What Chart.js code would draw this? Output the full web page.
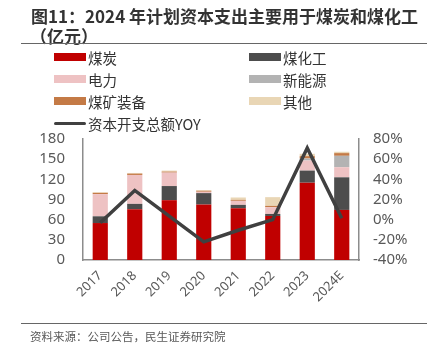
<!DOCTYPE html>
<html>
<head>
<meta charset="utf-8">
<script src="https://cdn.jsdelivr.net/npm/chart.js@4/dist/chart.umd.min.js"></script>
<style>
  body { margin: 0; background: #fff; font-family: "Noto Sans CJK SC", "Noto Sans", sans-serif; }
  #wrap { position: relative; width: 427px; height: 348px; overflow: hidden; }
  #chart { position: absolute; left: 0; top: 0; }
  .title { position: absolute; left: 31px; font-size: 17px; font-weight: bold; color: #333; line-height: 20px; white-space: nowrap; }
  .rule { position: absolute; left: 21px; right: 0; height: 0; border-top: 1.5px solid #666; }
  #legend { position: absolute; left: 0; top: 0; }
  .item { position: absolute; display: flex; align-items: center; font-size: 14.5px; color: #333; white-space: nowrap; height: 20px; }
  .sw { width: 32px; height: 8px; margin-right: 2px; }
  .ln { width: 32px; height: 3px; margin-right: 2px; border-radius: 2px; }
  .source { position: absolute; left: 30px; top: 328px; font-size: 11.5px; color: #595959; white-space: nowrap; }
</style>
</head>
<body>
<div id="wrap">
  <canvas id="chart" width="427" height="348"></canvas>
  <div class="title" style="top:6px">图11：2024 年计划资本支出主要用于煤炭和煤化工</div>
  <div class="title" style="top:26px; left:30px">（亿元）</div>
  <div class="rule" style="top:43px"></div>
  <div id="legend"></div>
  <div class="rule" style="top:323px"></div>
  <div class="source">资料来源：公司公告，民生证券研究院</div>
</div>
<script>
// 연도
const years = ['2017', '2018', '2019', '2020', '2021', '2022', '2023', '2024E'];

// 亿元, 그림에서 읽은 값
const coal      = [55, 75.5, 89, 82.5, 77, 65.5, 115, 74.5];
const coalChem  = [10, 8, 21, 17, 5, 3, 18, 48.5];
const power     = [33, 43, 20, 2, 6, 10, 15, 15];
const newEnergy = [0, 0, 0, 0, 0, 0, 3, 17];
const mineEquip = [2, 2, 1.5, 1.5, 1.5, 2, 3.5, 4];
const others    = [0.7, 1, 1.5, 1, 3.5, 13, 3.5, 2];

// 资本开支总额YOY (%)
const capexYoy = [-3, 29, 3.5, -22, -10.5, 0, 71, 1.5];

const leftTicks = [0, 30, 60, 90, 120, 150, 180];
const rightTicks = [-40, -20, 0, 20, 40, 60, 80];

const barSeries = [
    { label: '煤炭', data: coal, color: '#C00000' },
    { label: '煤化工', data: coalChem, color: '#4D4D4D' },
    { label: '电力', data: power, color: '#EEC2C3' },
    { label: '新能源', data: newEnergy, color: '#B3B3B3' },
    { label: '煤矿装备', data: mineEquip, color: '#C47A46' },
    { label: '其他', data: others, color: '#E9D6B5' }
];

const tickColor = '#595959';
const axisColor = '#8C8C8C';

const datasets = [{
    type: 'line',
    label: '资本开支总额YOY',
    data: capexYoy,
    yAxisID: 'y1',
    borderColor: '#404040',
    backgroundColor: '#404040',
    borderWidth: 3.5,
    pointRadius: 0,
    tension: 0,
    order: 0
}];

barSeries.forEach(s => {
    datasets.push({
        type: 'bar',
        label: s.label,
        data: s.data,
        yAxisID: 'y',
        backgroundColor: s.color,
        borderWidth: 0,
        categoryPercentage: 1,
        barPercentage: 0.44,
        stack: 'capex',
        order: 1
    });
});

const chart = new Chart(document.getElementById('chart').getContext('2d'), {
    data: { labels: years, datasets: datasets },
    options: {
        responsive: false,
        animation: false,
        layout: { padding: { top: 139, left: 0, right: 0, bottom: 0 } },
        plugins: {
            legend: { display: false },
            tooltip: { enabled: false }
        },
        scales: {
            x: {
                stacked: true,
                grid: { display: false, drawTicks: false },
                border: { display: true, color: axisColor, width: 1.5 },
                ticks: {
                    color: tickColor,
                    font: { family: 'Noto Sans', size: 13 },
                    autoSkip: false,
                    minRotation: 45,
                    maxRotation: 45,
                    padding: 8
                },
                afterFit: function(scale) { scale.height = 88; }
            },
            y: {
                stacked: true,
                position: 'left',
                min: 0,
                max: 180,
                afterBuildTicks: function(scale) { scale.ticks = leftTicks.map(v => ({ value: v })); },
                grid: { display: false, drawTicks: false },
                border: { display: true, color: axisColor, width: 1.5 },
                ticks: {
                    color: tickColor,
                    font: { family: 'Noto Sans', size: 15 },
                    autoSkip: false,
                    padding: 18
                },
                afterFit: function(scale) { scale.width = 83; }
            },
            y1: {
                position: 'right',
                min: -40,
                max: 80,
                afterBuildTicks: function(scale) { scale.ticks = rightTicks.map(v => ({ value: v })); },
                grid: { display: false, drawTicks: false },
                border: { display: true, color: axisColor, width: 1.5 },
                ticks: {
                    color: tickColor,
                    font: { family: 'Noto Sans', size: 15 },
                    autoSkip: false,
                    padding: 14,
                    callback: function(v) { return v + '%'; }
                },
                afterFit: function(scale) { scale.width = 68; }
            }
        }
    }
});

// 범례 (2열)
function buildLegend() {
    const legend = document.getElementById('legend');
    const items = barSeries.map(s => ({ label: s.label, color: s.color, line: false }));
    items.push({ label: datasets[0].label, color: datasets[0].borderColor, line: true });
    const rowsY = [47, 69, 91, 113];
    items.forEach((it, i) => {
        const div = document.createElement('div');
        div.className = 'item';
        const col = it.line ? 0 : i % 2;
        const row = it.line ? 3 : Math.floor(i / 2);
        div.style.left = (col === 0 ? 54 : 249) + 'px';
        div.style.top = rowsY[row] + 'px';
        div.innerHTML = `<span class="${it.line ? 'ln' : 'sw'}" style="background:${it.color}"></span>${it.label}`;
        legend.appendChild(div);
    });
}
buildLegend();
</script>
</body>
</html>
